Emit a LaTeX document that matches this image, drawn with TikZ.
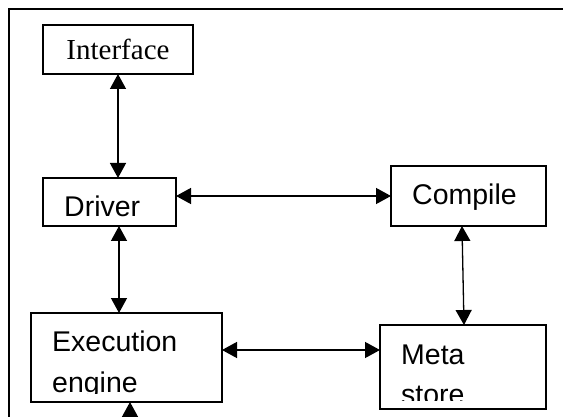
\documentclass[tikz,border=0pt]{standalone}
\usepackage{fontspec}
\setmainfont{Liberation Serif}
\setsansfont{Liberation Sans}
\usetikzlibrary{arrows.meta,calc}

\begin{document}
\begin{tikzpicture}
		[   x=1pt,y=-1pt,
			bnode/.style={draw=black,line width=1.2pt,inner sep=0pt,outer sep=0pt},
			tnode/.style={inner sep=0pt,font=\sffamily\fontsize{28.5}{40}\selectfont},
		]
		\tikzset{both arrow/.style={draw,line width=1.3pt,{Triangle[length=15pt,width=16pt]}-{Triangle[length=15pt,width=16pt]}}}
		\tikzset{up arrow/.style={draw,line width=1.3pt,-{Triangle[length=15pt,width=16pt]}}}
		\useasboundingbox (0,0) rectangle (563,417);
		\clip (0,0) rectangle (563,417);
		
		% frame
		\draw[line width=1.6pt] (8.7,417) -- (8.7,9.3) -- (563,9.3);
		
		\node[bnode,minimum width=150pt,minimum height=49pt,font=\fontsize{29}{35}\selectfont] (ifc) at (118,49.5) {Interface};
		\node[bnode,minimum width=133pt,minimum height=48pt] (drv) at (109.5,202) {};
		\node[bnode,minimum width=155pt,minimum height=60pt] (cmp) at (468.5,196) {};
		\node[bnode,minimum width=191pt,minimum height=89pt] (ex) at (126.5,357.5) {};
		\node[bnode,minimum width=166pt,minimum height=84pt] (ms) at (463,367) {};
		
		\node[tnode,anchor=base west] (drv-t) at ($(drv.north west)+(21,39)$) {Driver};
		\node[tnode,anchor=base west] (cmp-t) at ($(cmp.north west)+(21,39)$) {Compile};
		
		% text cut off at the bottom of the boxes
		\begin{scope}
			\clip (ex.north west) rectangle ([yshift=8.5pt]ex.south east);
			\node[tnode,anchor=base west] (ex-a) at ($(ex.north west)+(21,39)$) {Execution};
			\node[tnode,anchor=base west] (ex-b) at ($(ex.north west)+(21,79)$) {engine};
		\end{scope}
		\begin{scope}
			\clip (ms.north west) rectangle ([yshift=8.5pt]ms.south east);
			\node[tnode,anchor=base west] (ms-a) at ($(ms.north west)+(21,39)$) {Meta};
			\node[tnode,anchor=base west] (ms-b) at ($(ms.north west)+(21,79)$) {store};
		\end{scope}
		
		\path[both arrow] (ifc.south) -- (ifc.south |- drv.north);
		\path[both arrow] (drv.east |- cmp.west) -- (cmp.west);
		\path[both arrow] ([xshift=9.5pt]drv.south) -- ([xshift=9.5pt]drv.south |- ex.north);
		\path[both arrow] ([xshift=-6.5pt]cmp.south) -- ([xshift=1pt]ms.north);
		\path[both arrow] ([yshift=7.5pt]ex.east) -- ([yshift=7.5pt]ex.east -| ms.west);
		
		\coordinate (ex-in) at (130,440);
		\path[up arrow] (ex-in) -- (ex-in |- ex.south);
\end{tikzpicture}
\end{document}
